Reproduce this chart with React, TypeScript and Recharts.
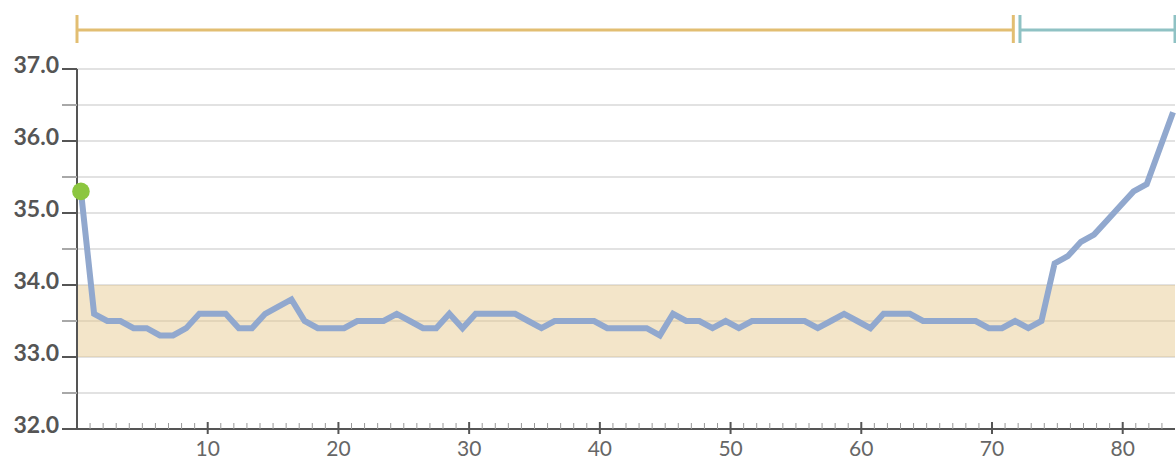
import React from 'react';
import { LineChart, Line, XAxis, YAxis, CartesianGrid, ReferenceArea } from 'recharts';

// Temperature readings (°C), one per sample
const temperatures: number[] = [
  35.3, 33.6, 33.5, 33.5, 33.4, 33.4, 33.3, 33.3, 33.4, 33.6,
  33.6, 33.6, 33.4, 33.4, 33.6, 33.7, 33.8, 33.5, 33.4, 33.4,
  33.4, 33.5, 33.5, 33.5, 33.6, 33.5, 33.4, 33.4, 33.6, 33.4,
  33.6, 33.6, 33.6, 33.6, 33.5, 33.4, 33.5, 33.5, 33.5, 33.5,
  33.4, 33.4, 33.4, 33.4, 33.3, 33.6, 33.5, 33.5, 33.4, 33.5,
  33.4, 33.5, 33.5, 33.5, 33.5, 33.5, 33.4, 33.5, 33.6, 33.5,
  33.4, 33.6, 33.6, 33.6, 33.5, 33.5, 33.5, 33.5, 33.5, 33.4,
  33.4, 33.5, 33.4, 33.5, 34.3, 34.4, 34.6, 34.7, 34.9, 35.1,
  35.3, 35.4, 35.9, 36.4,
];

const yTicks: number[] = [32, 32.5, 33, 33.5, 34, 34.5, 35, 35.5, 36, 36.5, 37];
const xLabelTicks: number[] = [10, 20, 30, 40, 50, 60, 70, 80];
const xMinorTicks: number[] = Array.from({ length: 83 }, (_, k) => k + 1);
const targetBand: [number, number] = [33, 34];
const phaseStarts: number[] = [0, 72.14];
const phaseEnds: number[] = [71.63, 84];
const phaseColors: string[] = ['#e2be72', '#8fc2c4'];

const data = temperatures.map((v, i) => ({ i, v }));

const FONT = 'Lato, "Open Sans", sans-serif';

const YTick = (props: any) => {
  const { x, y, payload } = props;
  const v = payload.value as number;
  const major = Number.isInteger(v);
  return (
    <g>
      <line x1={x - 15} x2={x} y1={y} y2={y} stroke={major ? '#555' : '#a8a8a8'} strokeWidth={2} />
      {major && (
        <text x={x - 18} y={y + 4} textAnchor="end" fontFamily={FONT} fontSize={23} fontWeight={700} fill="#555">
          {v.toFixed(1)}
        </text>
      )}
    </g>
  );
};

const XTick = (props: any) => {
  const { x, y, payload } = props;
  const v = payload.value as number;
  const major = xLabelTicks.includes(v);
  return (
    <g>
      {major ? (
        <line x1={x} x2={x} y1={y - 7} y2={y + 5} stroke="#555" strokeWidth={2} />
      ) : (
        <line x1={x} x2={x} y1={y - 6} y2={y} stroke="#999" strokeWidth={1} />
      )}
      {major && (
        <text x={x} y={y + 27} textAnchor="middle" fontFamily={FONT} fontSize={21} fill="#666">
          {v}
        </text>
      )}
    </g>
  );
};

const makePhaseShape = (color: string) => (props: any) => {
  const { x, y, width } = props;
  const by = y - 39;
  return (
    <g>
      <line x1={x} x2={x + width} y1={by} y2={by} stroke={color} strokeWidth={3} />
      <line x1={x} x2={x} y1={by - 15} y2={by + 13} stroke={color} strokeWidth={3} />
      <line x1={x + width} x2={x + width} y1={by - 15} y2={by + 13} stroke={color} strokeWidth={3} />
    </g>
  );
};

const StartDot = (props: any) => {
  const { cx, cy, index } = props;
  return <circle key={`dot-${index}`} cx={cx} cy={cy} r={index === 0 ? 8.8 : 0} fill="#8cc63f" stroke="none" />;
};

export default function App() {
  return (
    <div style={{ position: 'absolute', left: 0, top: 0 }}>
      <LineChart width={1176} height={458} data={data} margin={{ top: 69, right: 1, bottom: 0, left: 0 }}>
        <CartesianGrid xAxisId="t" vertical={false} stroke="#d8d8d8" strokeWidth={1.5} />
        <XAxis
          xAxisId="t"
          dataKey="i"
          type="number"
          domain={[0, 84]}
          allowDataOverflow
          ticks={xMinorTicks}
          interval={0}
          tickSize={0}
          tickMargin={0}
          tickLine={false}
          tick={<XTick />}
          axisLine={{ stroke: '#555', strokeWidth: 2 }}
          height={29}
        />
        <XAxis xAxisId="i" dataKey="i" type="number" domain={[-0.3, 83.15]} hide height={0} />
        <YAxis
          type="number"
          domain={[32, 37]}
          ticks={yTicks}
          interval={0}
          tickSize={0}
          tickMargin={0}
          tickLine={false}
          tick={<YTick />}
          axisLine={{ stroke: '#555', strokeWidth: 2 }}
          width={77}
        />
        <ReferenceArea xAxisId="t" y1={targetBand[0]} y2={targetBand[1]} fill="#e4c587" fillOpacity={0.45} stroke="none" />
        {phaseStarts.map((s, k) => (
          <ReferenceArea
            key={`phase-${k}`}
            xAxisId="t"
            x1={s}
            x2={phaseEnds[k]}
            ifOverflow="visible"
            shape={makePhaseShape(phaseColors[k])}
          />
        ))}
        <Line
          xAxisId="i"
          type="linear"
          dataKey="v"
          stroke="#91a8ce"
          strokeWidth={6}
          dot={StartDot}
          activeDot={false}
          isAnimationActive={false}
        />
      </LineChart>
    </div>
  );
}
